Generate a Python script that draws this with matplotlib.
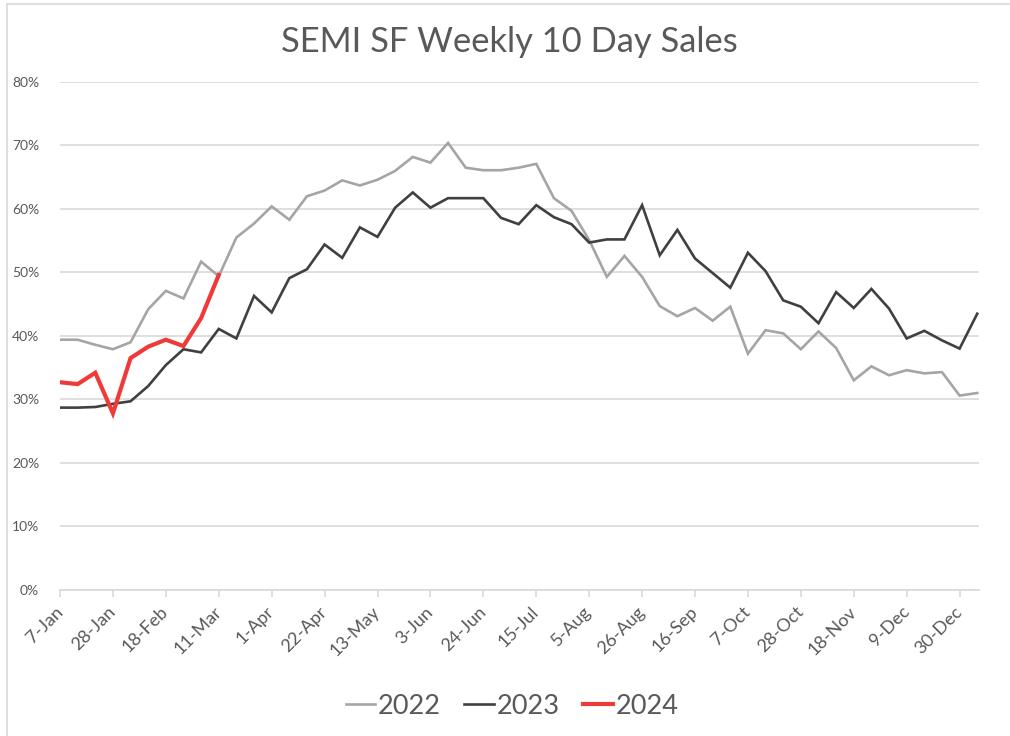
import numpy as np
import matplotlib
matplotlib.use('Agg')
import matplotlib.pyplot as plt
from matplotlib.ticker import FuncFormatter
from matplotlib.lines import Line2D

### Data (percent of 10 day sales, one point per week)

tick_labels = ['7-Jan', '28-Jan', '18-Feb', '11-Mar', '1-Apr', '22-Apr', '13-May',
               '3-Jun', '24-Jun', '15-Jul', '5-Aug', '26-Aug', '16-Sep', '7-Oct',
               '28-Oct', '18-Nov', '9-Dec', '30-Dec']

sales_2022 = [39.4, 39.4, 38.6, 37.9, 39.0, 44.2, 47.1, 45.9, 51.7, 49.4,
              55.5, 57.7, 60.4, 58.3, 62.0, 62.9, 64.5, 63.7, 64.6, 66.0,
              68.2, 67.3, 70.4, 66.5, 66.1, 66.1, 66.5, 67.1, 61.7, 59.7,
              55.1, 49.3, 52.6, 49.3, 44.7, 43.1, 44.4, 42.4, 44.6, 37.2,
              40.9, 40.4, 37.9, 40.7, 38.1, 33.0, 35.2, 33.8, 34.6, 34.1,
              34.3, 30.6, 31.0]

sales_2023 = [28.7, 28.7, 28.8, 29.3, 29.7, 32.1, 35.4, 37.9, 37.4, 41.1,
              39.6, 46.3, 43.7, 49.1, 50.5, 54.4, 52.3, 57.1, 55.6, 60.2,
              62.6, 60.2, 61.7, 61.7, 61.7, 58.6, 57.6, 60.6, 58.7, 57.6,
              54.7, 55.2, 55.2, 60.6, 52.7, 56.7, 52.2, 49.9, 47.6, 53.1,
              50.2, 45.6, 44.6, 42.0, 46.9, 44.4, 47.4, 44.3, 39.6, 40.8,
              39.3, 38.0, 43.5]

sales_2024 = [32.7, 32.4, 34.2, 27.8, 36.5, 38.3, 39.4, 38.4, 42.8, 49.6]

series_names = ['2022', '2023', '2024']
colors = ['#a5a5a5', '#404040', '#f03a3a']
widths = [1.9, 1.9, 3.0]

### Plot

plt.rcParams['font.family'] = ['Lato', 'DejaVu Sans']
text_color = '#595959'
grid_color = '#d9d9d9'

fig = plt.figure(figsize=(10.10, 7.36), dpi=100)
ax = fig.add_axes([60 / 1010, 146.2 / 736, 919 / 1010, 507.8 / 736])

for name, vals, c, lw in zip(series_names, [sales_2022, sales_2023, sales_2024], colors, widths):
    ax.plot(np.arange(len(vals)), vals, color=c, lw=lw, label=name,
            solid_joinstyle='miter', zorder=3)

ax.set_xlim(0, len(sales_2022) - 1 + 0.1)
ax.set_ylim(0, 80)
ax.set_yticks(np.arange(0, 81, 10))
ax.yaxis.set_major_formatter(FuncFormatter(lambda v, p: f'{v:.0f}%'))
ax.grid(axis='y', color=grid_color, lw=1.2, zorder=0)

tick_pos = np.arange(0, 3 * len(tick_labels), 3)
ax.set_xticks(tick_pos)
ax.set_xticklabels(tick_labels, rotation=45, ha='right', va='center',
                   rotation_mode='anchor')

for s in ['top', 'right', 'left']:
    ax.spines[s].set_visible(False)
ax.spines['bottom'].set_color(grid_color)
ax.spines['bottom'].set_linewidth(1.2)

ax.tick_params(axis='y', length=0, pad=15, labelsize=10, labelcolor=text_color)
ax.tick_params(axis='x', length=5, width=1.2, color=grid_color, pad=9,
               labelsize=13, labelcolor=text_color)

fig.text(509 / 1010, 1 - 42 / 736, 'SEMI SF Weekly 10 Day Sales', ha='center',
         va='center', fontsize=24.8, color=text_color)

handles = [Line2D([], [], color=c, lw=lw) for c, lw in zip(colors, widths)]
fig.legend(handles, series_names, loc='center', bbox_to_anchor=(512 / 1010, 1 - 706 / 736),
           ncol=3, frameon=False, fontsize=19.5, labelcolor=text_color,
           handlelength=1.1, handletextpad=0.1, columnspacing=0.85)

# chart area border
fig.add_artist(Line2D([7 / 1010, 7 / 1010], [0, 1 - 4 / 736], color=grid_color, lw=1.2))
fig.add_artist(Line2D([7 / 1010, 1], [1 - 4 / 736, 1 - 4 / 736], color=grid_color, lw=1.2))

fig.savefig('out.png', dpi=100)
